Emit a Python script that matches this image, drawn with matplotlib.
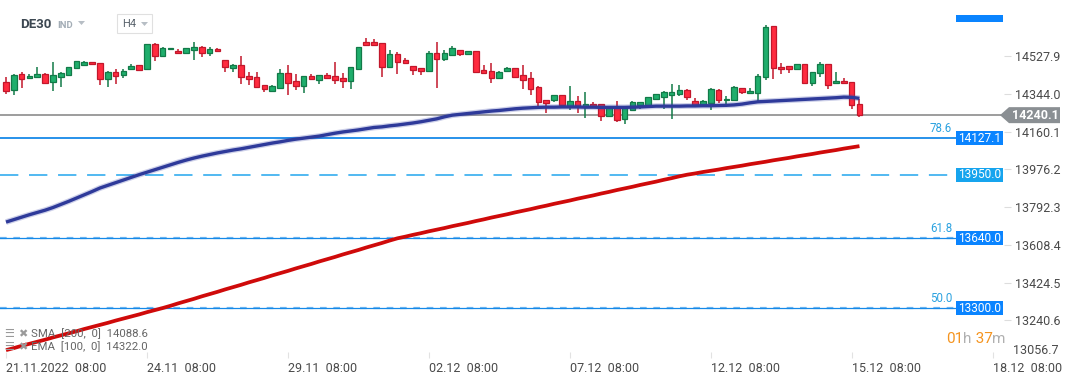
import matplotlib
matplotlib.use("Agg")
import matplotlib.pyplot as plt
import matplotlib.transforms as mtransforms
from matplotlib.patches import Rectangle, Polygon

plt.rcParams['font.family'] = ['Roboto', 'DejaVu Sans']

# H4 candles, DE30, 21.11.2022 08:00 .. 15.12.2022 12:00
opens = [14399.5, 14360.6, 14438.5, 14419.0, 14427.2, 14438.5, 14399.5, 14427.2, 14436.9, 14467.8,
         14485.6, 14497.0, 14492.1, 14414.2, 14448.3, 14433.7, 14466.1, 14482.4, 14462.9, 14584.7,
         14526.2, 14560.4, 14552.2, 14540.9, 14558.7, 14570.1, 14540.9, 14560.4, 14508.4, 14471.0,
         14484.0, 14430.4, 14425.6, 14384.9, 14358.9, 14373.6, 14445.0, 14406.0, 14381.7, 14430.4,
         14412.6, 14435.3, 14430.4, 14420.7, 14407.7, 14466.1, 14596.1, 14596.1, 14591.2, 14474.3,
         14537.6, 14508.4, 14479.1, 14469.4, 14454.8, 14542.5, 14513.3, 14534.4, 14557.1, 14539.2,
         14552.2, 14459.6, 14454.8, 14422.3, 14456.4, 14469.4, 14435.3, 14420.7, 14376.8, 14311.8,
         14315.1, 14336.2, 14284.2, 14307.0, 14281.0, 14292.3, 14292.3, 14233.9, 14272.9, 14219.3,
         14263.1, 14290.7, 14287.5, 14320.0, 14328.1, 14339.5, 14344.3, 14360.6, 14307.0, 14290.7,
         14300.5, 14360.6, 14311.9, 14311.9, 14370.3, 14345.9, 14345.9, 14423.9, 14672.4, 14472.6,
         14477.5, 14462.9, 14487.3, 14394.7, 14443.4, 14487.3, 14394.7, 14404.4, 14399.6, 14292.4]
highs = [14423.9, 14440.2, 14449.9, 14440.2, 14474.3, 14443.4, 14498.6, 14449.9, 14475.9, 14501.9,
         14501.9, 14497.0, 14492.1, 14454.8, 14464.5, 14464.5, 14488.9, 14482.4, 14584.7, 14591.2,
         14570.1, 14568.5, 14562.0, 14565.2, 14596.1, 14576.6, 14570.1, 14566.9, 14508.4, 14488.9,
         14527.9, 14449.9, 14449.9, 14384.9, 14386.6, 14464.5, 14484.0, 14440.2, 14430.4, 14440.2,
         14435.3, 14445.0, 14498.6, 14445.0, 14474.3, 14570.1, 14615.6, 14610.7, 14591.2, 14557.1,
         14547.4, 14518.1, 14479.1, 14469.4, 14552.2, 14596.1, 14557.1, 14576.6, 14557.1, 14550.6,
         14552.2, 14484.0, 14493.8, 14454.8, 14474.3, 14469.4, 14484.0, 14449.9, 14381.7, 14311.8,
         14336.2, 14336.2, 14381.7, 14333.0, 14352.4, 14303.7, 14292.3, 14274.5, 14308.6, 14272.9,
         14308.6, 14302.1, 14326.5, 14341.1, 14358.9, 14391.4, 14386.6, 14365.4, 14321.6, 14311.9,
         14370.3, 14365.4, 14331.3, 14380.1, 14370.3, 14370.3, 14438.5, 14677.3, 14672.4, 14492.1,
         14477.5, 14487.3, 14487.3, 14448.3, 14497.0, 14487.3, 14448.3, 14419.1, 14399.6, 14316.7]
lows = [14342.7, 14339.4, 14373.6, 14417.4, 14427.2, 14397.9, 14358.9, 14378.4, 14432.0, 14467.8,
        14480.8, 14487.3, 14388.2, 14378.4, 14393.1, 14422.3, 14466.1, 14458.0, 14462.9, 14505.1,
        14526.2, 14560.4, 14536.0, 14540.9, 14510.0, 14524.6, 14529.5, 14550.6, 14449.9, 14451.5,
        14391.4, 14386.6, 14378.4, 14354.1, 14354.1, 14373.6, 14337.8, 14363.8, 14349.2, 14412.6,
        14393.1, 14417.4, 14391.4, 14371.9, 14367.1, 14466.1, 14578.2, 14583.1, 14425.6, 14471.0,
        14440.2, 14490.5, 14436.9, 14435.3, 14449.9, 14373.6, 14505.1, 14529.5, 14529.5, 14537.6,
        14446.7, 14440.2, 14397.9, 14417.4, 14453.1, 14427.2, 14368.7, 14339.4, 14285.8, 14251.8,
        14305.3, 14290.7, 14266.4, 14251.8, 14227.4, 14282.6, 14212.7, 14233.9, 14207.9, 14198.1,
        14263.1, 14269.6, 14287.5, 14320.0, 14271.2, 14219.3, 14333.0, 14313.5, 14290.7, 14290.7,
        14263.1, 14297.2, 14281.0, 14310.2, 14341.1, 14341.1, 14302.1, 14409.3, 14414.2, 14438.5,
        14443.4, 14462.9, 14389.8, 14380.1, 14423.9, 14365.4, 14394.7, 14394.7, 14268.0, 14229.0]
closes = [14358.9, 14435.3, 14417.4, 14430.4, 14438.5, 14397.9, 14435.3, 14443.4, 14472.6, 14501.9,
          14497.0, 14487.3, 14414.2, 14448.3, 14432.0, 14453.1, 14477.4, 14458.0, 14584.7, 14526.2,
          14565.2, 14568.5, 14540.9, 14565.2, 14570.1, 14540.9, 14560.4, 14550.6, 14474.3, 14484.0,
          14425.6, 14417.4, 14378.4, 14365.4, 14381.7, 14445.0, 14397.9, 14383.3, 14430.4, 14417.4,
          14435.3, 14420.7, 14412.6, 14407.7, 14474.3, 14570.1, 14583.1, 14583.1, 14474.3, 14537.6,
          14500.3, 14495.4, 14461.3, 14456.4, 14542.5, 14514.9, 14542.5, 14566.9, 14539.2, 14550.6,
          14451.5, 14446.7, 14422.3, 14449.9, 14469.4, 14427.2, 14412.6, 14368.7, 14305.3, 14300.5,
          14336.2, 14290.7, 14307.0, 14282.6, 14292.3, 14282.6, 14233.9, 14274.5, 14217.6, 14272.9,
          14302.1, 14302.1, 14326.5, 14341.1, 14350.8, 14350.8, 14360.6, 14329.7, 14290.7, 14307.0,
          14365.4, 14311.9, 14320.0, 14375.2, 14350.8, 14355.7, 14428.8, 14667.6, 14467.8, 14462.9,
          14462.9, 14487.3, 14394.7, 14448.3, 14487.3, 14384.9, 14404.4, 14394.7, 14287.5, 14240.1]

# EMA [100, 0]
ema100 = [13719, 13731, 13743, 13755, 13766, 13777, 13790, 13805, 13820, 13836,
          13852, 13868, 13885, 13898, 13911, 13924, 13937, 13950, 13962, 13974,
          13986, 13998, 14010, 14021, 14031, 14040, 14048, 14056, 14063, 14070,
          14076, 14083, 14090, 14097, 14104, 14110, 14117, 14123, 14128, 14133,
          14138, 14145, 14152, 14158, 14163, 14168, 14174, 14180, 14183, 14188,
          14192, 14197, 14202, 14208, 14215, 14222, 14232, 14240, 14244, 14248,
          14252, 14256, 14260, 14263, 14267, 14271, 14274, 14276, 14278, 14279,
          14279, 14280, 14280, 14280, 14279, 14279, 14278, 14278, 14278, 14278,
          14279, 14280, 14282, 14284, 14284, 14284, 14284, 14285, 14285, 14286,
          14286, 14287, 14288, 14290, 14294, 14300, 14305, 14307, 14309, 14311,
          14313, 14315, 14317, 14319, 14321, 14323, 14325, 14328, 14327, 14322]
# SMA [200, 0]
sma200 = [13095, 13105, 13116, 13126, 13136, 13146, 13157, 13167, 13177, 13187,
          13198, 13208, 13218, 13228, 13239, 13249, 13259, 13269, 13280, 13290,
          13300, 13311, 13323, 13334, 13345, 13357, 13368, 13379, 13391, 13402,
          13413, 13425, 13436, 13447, 13459, 13470, 13481, 13493, 13504, 13515,
          13527, 13538, 13549, 13561, 13572, 13583, 13595, 13606, 13617, 13629,
          13640, 13648, 13657, 13665, 13674, 13682, 13690, 13699, 13707, 13715,
          13724, 13732, 13741, 13749, 13757, 13766, 13774, 13782, 13791, 13799,
          13808, 13816, 13824, 13833, 13841, 13849, 13858, 13866, 13875, 13883,
          13891, 13900, 13908, 13916, 13925, 13933, 13942, 13950, 13956, 13963,
          13969, 13975, 13982, 13988, 13994, 14001, 14007, 14013, 14020, 14026,
          14032, 14039, 14045, 14051, 14058, 14064, 14070, 14077, 14083, 14089]

fib_levels = [14127.1, 13950.0, 13640.0, 13300.0]
fib_names = ['78.6', '', '61.8', '50.0']
last_price = 14240.1

y_ticks = [13240.6, 13424.5, 13608.4, 13792.3, 13976.2, 14160.1, 14344.0, 14527.9]
x_tick_pos = [0, 18, 36, 54, 72, 90, 108, 126]
x_tick_labels = ['21.11.2022  08:00', '24.11  08:00', '29.11  08:00', '02.12  08:00',
                 '07.12  08:00', '12.12  08:00', '15.12  08:00', '18.12  08:00']

W, H = 1072, 382
fig = plt.figure(figsize=(W / 100, H / 100), dpi=100)
ax = fig.add_axes([0, 24 / H, 1004 / W, 358 / H])
ax.set_xlim(-0.766, 127.46)
ax.set_ylim(13056.7, 14801.2)
for s in ax.spines.values():
    s.set_visible(False)

up_face, up_edge = '#1fae6c', '#127a48'
dn_face, dn_edge = '#ff2b3f', '#c2172b'

idx = list(range(len(opens)))
for i in idx:
    o, h, l, c = opens[i], highs[i], lows[i], closes[i]
    up = c >= o
    edge = up_edge if up else dn_edge
    face = up_face if up else dn_face
    ax.vlines(i, l, h, color=edge, lw=1.1, zorder=3)
    bot = min(o, c)
    ht = max(abs(c - o), 5)
    ax.bar(i, ht, bottom=bot, width=0.72, color=face, edgecolor=edge, lw=0.9, zorder=4)

# moving averages
ax.plot(idx, ema100, color='#3a46a8', lw=4.2, alpha=0.25, solid_capstyle='butt', zorder=5)
ax.plot(idx, ema100, color='#2e3a9a', lw=2.4, solid_capstyle='butt', zorder=6)
ax.plot(idx, sma200, color='#cf0a0a', lw=2.7, solid_capstyle='butt', zorder=6)

# last price line
ax.axhline(last_price, color='#8c8c8c', lw=1.2, zorder=2)

# fibo levels
fib_x_end = 956 / 1004
ax.axhline(fib_levels[0], xmax=fib_x_end, color='#1689e8', lw=1.3, zorder=2)
ax.axhline(fib_levels[1], xmax=fib_x_end, color='#22a6ee', lw=1.1, dashes=(12, 7), zorder=2)
for lv in fib_levels[2:]:
    ax.axhline(lv, xmax=fib_x_end, color='#1689e8', lw=0.9, zorder=2)
    ax.axhline(lv, xmax=fib_x_end, color='#1689e8', lw=1.6, dashes=(3, 3), alpha=0.6, zorder=2)

tr = mtransforms.blended_transform_factory(ax.transAxes, ax.transData)
box_cols = ['#0a84ff', '#16a4ee', '#0a84ff', '#0a84ff']
half = 7 * 4.873
for lv, nm, bc in zip(fib_levels, fib_names, box_cols):
    ax.add_patch(Rectangle((fib_x_end, lv - half), 47 / 1004, 2 * half, transform=tr,
                           color=bc, lw=0, zorder=7, clip_on=False))
    ax.text(979.5 / 1004, lv, '%.1f' % lv, transform=tr, ha='center', va='center',
            color='white', fontsize=8.6, zorder=8)
    if nm:
        ax.text(952 / 1004, lv + 3 * 4.873, nm, transform=tr, ha='right', va='bottom',
                color='#2ba2e0', fontsize=8.3, zorder=8)

# current price tag
pt = [(1000 / 1004, last_price), (1009 / 1004, last_price + 8 * 4.873),
      (1060 / 1004, last_price + 8 * 4.873), (1060 / 1004, last_price - 8 * 4.873),
      (1009 / 1004, last_price - 8 * 4.873)]
ax.add_patch(Polygon(pt, closed=True, transform=tr, color='#8a8f93', lw=0, zorder=9, clip_on=False))
ax.text(1035 / 1004, last_price, '%.1f' % last_price, transform=tr, ha='center', va='center',
        color='white', fontsize=9, fontweight='bold', zorder=10)

# axes ticks
ax.yaxis.tick_right()
ax.set_yticks(y_ticks)
ax.set_yticklabels(['%.1f' % v for v in y_ticks])
ax.tick_params(axis='y', length=5, width=0.8, color='#dddddd', labelcolor='#4a4a4a',
               labelsize=9, pad=3)
ax.text(1013 / 1004, 13056.7 + 1 * 4.873, '13056.7', transform=tr, ha='left', va='bottom',
        color='#4a4a4a', fontsize=9, clip_on=False)

ax.set_xticks(x_tick_pos)
ax.set_xticklabels(x_tick_labels, ha='left')
ax.tick_params(axis='x', direction='in', length=4, width=0.8, color='#e2e2e2',
               labelcolor='#4a4a4a', labelsize=9, pad=3)

# header
fig.text(20 / W, 1 - 25 / H, 'DE30', fontsize=9.5, fontweight='bold', color='#3d4852', va='center')
fig.text(57 / W, 1 - 25.5 / H, 'IND', fontsize=6.8, fontweight='bold', color='#a3adb6', va='center')
fig.add_artist(Polygon([(78 / W, 1 - 21 / H), (85 / W, 1 - 21 / H), (81.5 / W, 1 - 25 / H)],
                       closed=True, transform=fig.transFigure, color='#b7bec5', lw=0))
fig.add_artist(Rectangle((117 / W, 1 - 33 / H), 35 / W, 19 / H, transform=fig.transFigure,
                         facecolor='white', edgecolor='#e0e0e0', lw=0.8))
fig.text(122 / W, 1 - 24 / H, 'H4', fontsize=8, color='#59636c', va='center')
fig.add_artist(Polygon([(141 / W, 1 - 22 / H), (148 / W, 1 - 22 / H), (144.5 / W, 1 - 26 / H)],
                       closed=True, transform=fig.transFigure, color='#b7bec5', lw=0))
fig.add_artist(Rectangle((956 / W, 1 - 22 / H), 47 / W, 7 / H, transform=fig.transFigure,
                         color='#0a84ff', lw=0))

# indicator legend
for yy, txt in [(334, 'SMA  [200,  0]  14088.6'), (347, 'EMA  [100,  0]  14322.0')]:
    fig.text(4 / W, 1 - yy / H, '\u2630', fontsize=8, color='#9a9a9a', va='center',
             family='DejaVu Sans')
    fig.text(18 / W, 1 - yy / H, '\u2716', fontsize=8, color='#9a9a9a', va='center',
             family='DejaVu Sans')
    fig.text(31 / W, 1 - yy / H, txt, fontsize=8.2, color='#666666', va='center')

# candle timer
t_y = 1 - 339 / H
parts = [('01', '#f5941f'), ('h', '#b0b0b0'), (' 37', '#f5941f'), ('m', '#b0b0b0')]
xx = 946
for s, col in parts:
    t = fig.text(xx / W, t_y, s, fontsize=11, color=col, va='center')
    fig.canvas.draw()
    xx += t.get_window_extent().width

fig.savefig('out.png', dpi=100, facecolor='white')
